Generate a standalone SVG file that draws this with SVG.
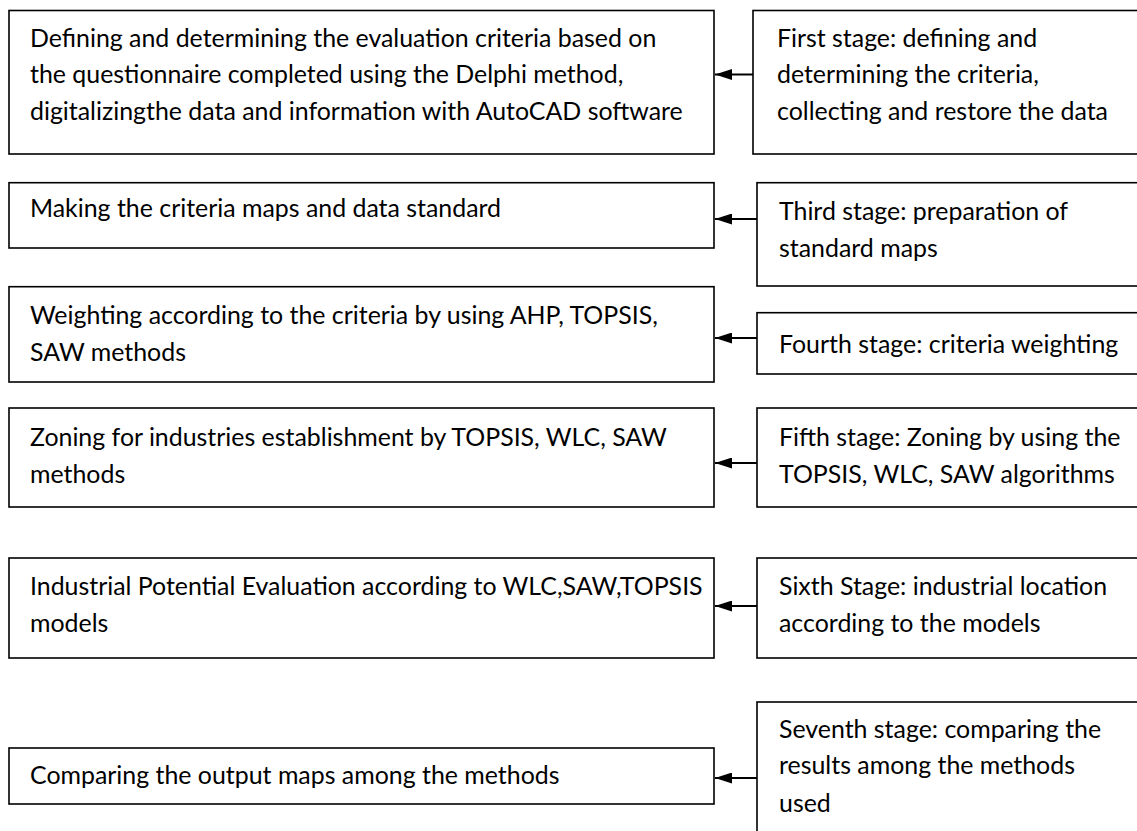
<svg xmlns="http://www.w3.org/2000/svg" width="1137" height="831" viewBox="0 0 1137 831">
<style>
.box{fill:#fff;stroke:#000;stroke-width:1.6}
.t{font-family:Lato,"Liberation Sans",sans-serif;font-size:24.9px;fill:#000}
.c{stroke:#000;stroke-width:2.2;fill:none}
</style>
<defs>
<marker id="ah2" viewBox="0 0 17 11" refX="17" refY="5.5" markerWidth="17" markerHeight="11" markerUnits="userSpaceOnUse" orient="auto">
<path d="M0,0 L17,5.5 L0,11 Z" fill="#000"/>
</marker>
</defs>
<rect width="1137" height="831" fill="#fff"/>
<g id="L1"><rect class="box" x="9" y="10.5" width="705" height="143.5"/>
<text class="t" x="30" y="46.7">Defining and determining the evaluation criteria based on</text>
<text class="t" x="30" y="83.3">the questionnaire completed using the Delphi method,</text>
<text class="t" x="30" y="120">digitalizingthe data and information with AutoCAD software</text></g>
<g id="R1"><rect class="box" x="753" y="10.5" width="400" height="143.5"/>
<text class="t" x="777" y="46.7">First stage: defining and</text>
<text class="t" x="777" y="83.3">determining the criteria,</text>
<text class="t" x="777" y="120">collecting and restore the data</text></g>
<g id="L2"><rect class="box" x="9" y="182.7" width="705" height="65.3"/>
<text class="t" x="30" y="216.7">Making the criteria maps and data standard</text></g>
<g id="R2"><rect class="box" x="757" y="182.7" width="400" height="103.3"/>
<text class="t" x="779" y="220">Third stage: preparation of</text>
<text class="t" x="779" y="256.5">standard maps</text></g>
<g id="L3"><rect class="box" x="9" y="286.7" width="705" height="95.3"/>
<text class="t" x="30" y="324">Weighting according to the criteria by using AHP, TOPSIS,</text>
<text class="t" x="30" y="360.7">SAW methods</text></g>
<g id="R3"><rect class="box" x="757" y="312.7" width="400" height="61.3"/>
<text class="t" x="779" y="352.7">Fourth stage: criteria weighting</text></g>
<g id="L4"><rect class="box" x="9" y="408" width="705" height="99"/>
<text class="t" x="30" y="446">Zoning for industries establishment by TOPSIS, WLC, SAW</text>
<text class="t" x="30" y="482.7">methods</text></g>
<g id="R4"><rect class="box" x="757" y="408" width="400" height="99"/>
<text class="t" x="779" y="446">Fifth stage: Zoning by using the</text>
<text class="t" x="779" y="482.7">TOPSIS, WLC, SAW algorithms</text></g>
<g id="L5"><rect class="box" x="9" y="558" width="705" height="100"/>
<text class="t" x="30" y="595">Industrial Potential Evaluation according to WLC,SAW,TOPSIS</text>
<text class="t" x="30" y="631.7">models</text></g>
<g id="R5"><rect class="box" x="757" y="558" width="400" height="100"/>
<text class="t" x="779" y="595">Sixth Stage: industrial location</text>
<text class="t" x="779" y="631.7">according to the models</text></g>
<g id="L6"><rect class="box" x="9" y="748" width="705" height="56"/>
<text class="t" x="30" y="784.3">Comparing the output maps among the methods</text></g>
<g id="R6"><rect class="box" x="757" y="702" width="400" height="150"/>
<text class="t" x="779" y="737.7">Seventh stage: comparing the</text>
<text class="t" x="779" y="774.3">results among the methods</text>
<text class="t" x="779" y="811.7">used</text></g>
<g id="connectors">
<line class="c" x1="753" y1="74.5" x2="715" y2="74.5" marker-end="url(#ah2)"/>
<line class="c" x1="757" y1="219" x2="715" y2="219" marker-end="url(#ah2)"/>
<line class="c" x1="757" y1="338" x2="715" y2="338" marker-end="url(#ah2)"/>
<line class="c" x1="757" y1="463" x2="715" y2="463" marker-end="url(#ah2)"/>
<line class="c" x1="757" y1="606" x2="715" y2="606" marker-end="url(#ah2)"/>
<line class="c" x1="757" y1="778" x2="715" y2="778" marker-end="url(#ah2)"/>
</g>
</svg>
